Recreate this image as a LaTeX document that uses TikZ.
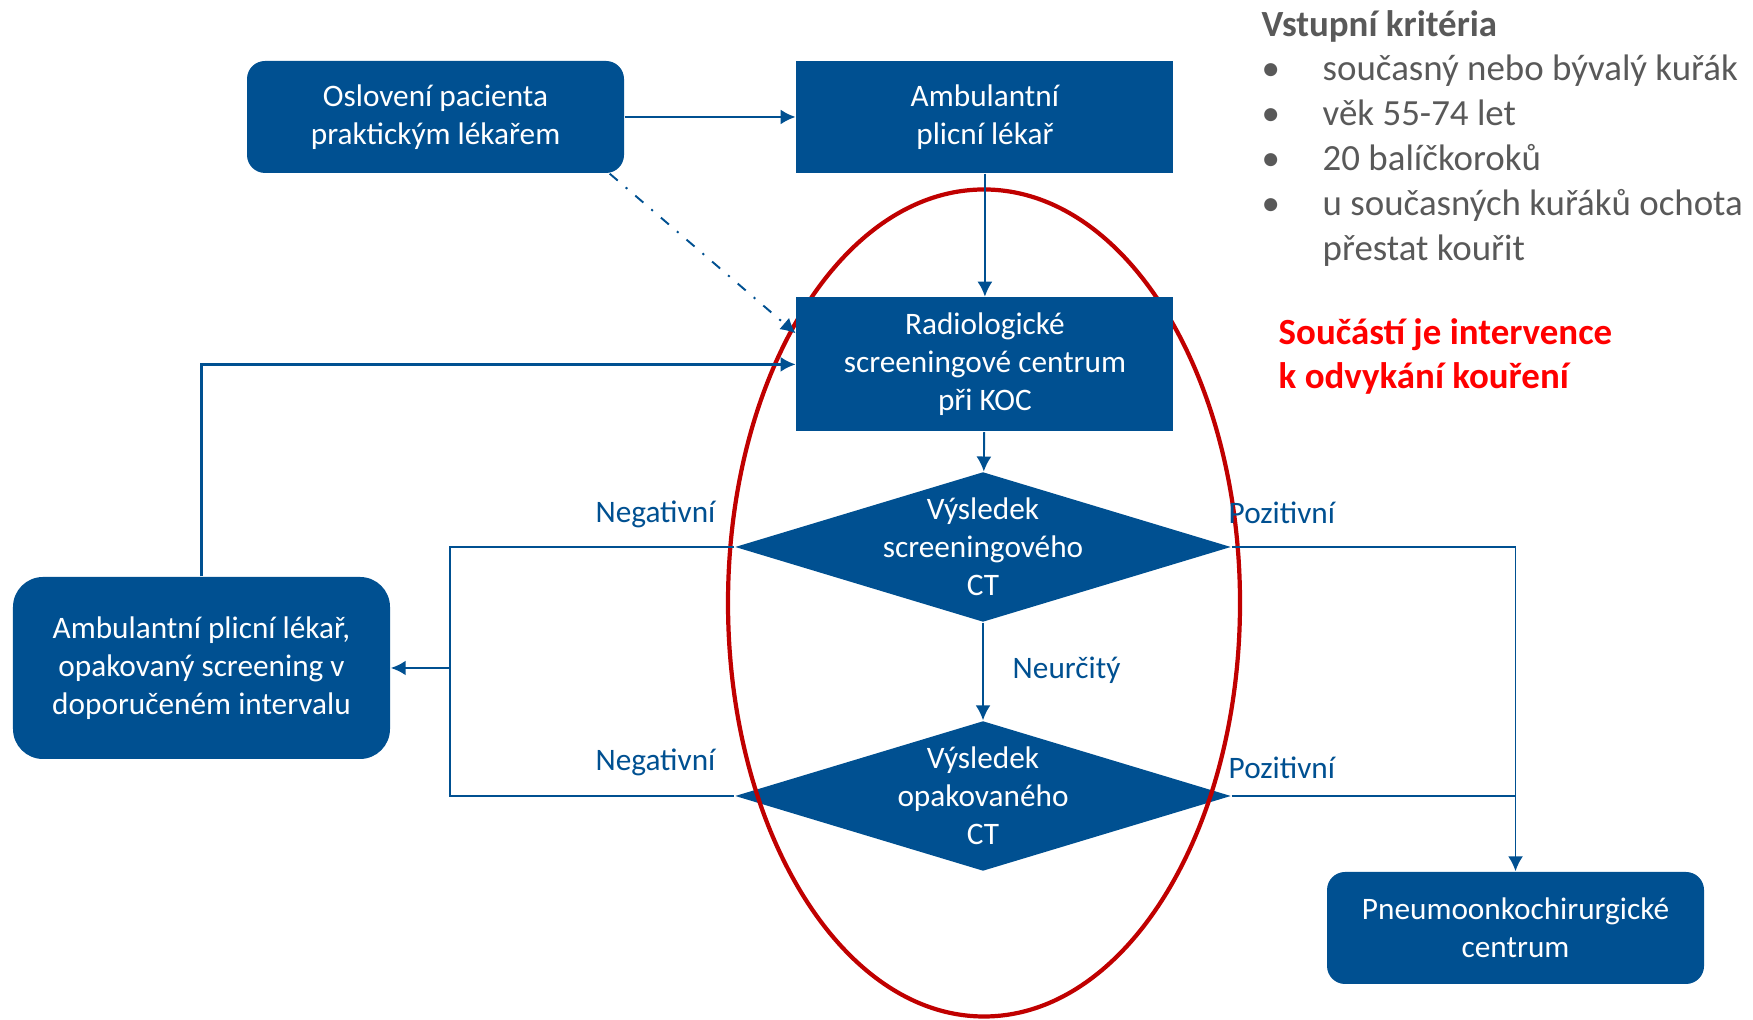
\documentclass[tikz,border=0pt]{standalone}
\usepackage{fontspec}
\setmainfont{Carlito}
\usetikzlibrary{positioning,shapes.geometric,arrows.meta}
\definecolor{koc}{RGB}{0,80,145}
\definecolor{oval}{RGB}{192,0,0}
\definecolor{sed}{RGB}{89,89,89}

\begin{document}
\begin{tikzpicture}[
    box/.style={rectangle, draw=none, fill=koc, text=white, align=center,
        minimum width=3.77cm, minimum height=1.12cm, inner sep=0pt,
        font=\fontsize{8.9}{10.8}\selectfont},
    rbox/.style={box, rounded corners=1.8mm},
    decision/.style={diamond, draw=none, fill=koc, inner sep=0pt,
        minimum width=4.96cm, minimum height=1.5cm},
    dtext/.style={text=white, align=center, inner sep=0pt, font=\fontsize{8.9}{10.8}\selectfont},
    wire/.style={draw=koc, line width=0.55pt},
    link/.style={wire, -{Latex[length=1.5mm,width=1.5mm]}},
    lbl/.style={text=koc, inner sep=0pt, font=\fontsize{8.9}{10.8}\selectfont}
]
\useasboundingbox (0,0) rectangle (17.53,10.20);

% diamonds sit under the red oval
\node [decision] (CT1) at (9.83,4.73) {};
\node [decision] (CT2) at (9.83,2.24) {};
\node [ellipse, draw=oval, line width=1.2pt, inner sep=0pt,
    minimum width=5.12cm, minimum height=8.27cm] (Oval) at (9.84,4.17) {};

\node [rbox] (Praktik) at (4.355,9.03) {Oslovení pacienta\\praktickým lékařem};
\node [box, right=1.71cm of Praktik] (Pneumolog) {Ambulantní\\plicní lékař};
\node [box, minimum height=1.34cm, below=1.23cm of Pneumolog] (Radio) {Radiologické\\screeningové centrum\\při KOC};
\node [rbox, minimum height=1.82cm, rounded corners=3mm] (Kontrola) at (2.015,3.52)
    {Ambulantní plicní lékař,\\opakovaný screening v\\doporučeném intervalu};
\node [rbox] (Chirurgie) at (15.155,0.92) {Pneumoonkochirurgické\\centrum};

\node [dtext] (CT1txt) at (CT1) {Výsledek\\screeningového\\CT};
\node [dtext] (CT2txt) at (CT2) {Výsledek\\opakovaného\\CT};

\draw [link, line width=0.8pt] (Praktik.east) -- (Pneumolog.west);
\draw [link] (Pneumolog) -- (Radio);
\draw [link, dash pattern=on 3pt off 3pt on 0.6pt off 3pt]
    ([xshift=-1.5mm]Praktik.south east) -- ([yshift=3.1mm]Radio.west);
\draw [link, line width=0.8pt] (Kontrola.north) |- (Radio.west);
\draw [link] (Radio) -- (CT1);
\draw [link] (CT1) -- (CT2);

\coordinate (Zpet) at (4.50,3.52);
\draw [wire] (CT1.west) -| (Zpet) |- (CT2.west);
\draw [link, line width=0.8pt] (Zpet) -- (Kontrola.east);
\draw [link] (CT1.east) -| (Chirurgie.north);
\draw [wire] (CT2.east) -- (CT2.east -| Chirurgie.north);

\node [lbl, anchor=east] (Neg1) at (7.16,5.06) {Negativní};
\node [lbl, anchor=east] (Neg2) at (7.16,2.58) {Negativní};
\node [lbl, anchor=west] (Poz1) at (12.28,5.07) {Pozitivní};
\node [lbl, anchor=west] (Poz2) at (12.28,2.52) {Pozitivní};
\node [lbl, anchor=west] (Neur) at (10.12,3.50) {Neurčitý};

\node [anchor=north west, inner sep=0pt, text=sed, font=\fontsize{10.5}{12.75}\selectfont]
    (Kriteria) at (12.61,10.16) {%
    \begin{tabular}{@{}p{6.1mm}@{}l@{}}
    \multicolumn{2}{@{}l@{}}{\bfseries Vstupní kritéria}\\
    \textbullet & současný nebo bývalý kuřák\\
    \textbullet & věk 55-74 let\\
    \textbullet & 20 balíčkoroků\\
    \textbullet & u současných kuřáků ochota\\
     & přestat kouřit
    \end{tabular}};
\node [anchor=north west, inner sep=0pt, text=red, font=\bfseries\fontsize{10.5}{12.75}\selectfont]
    (Odvykani) at (12.78,7.08) {%
    \begin{tabular}{@{}l@{}}
    Součástí je intervence\\
    k odvykání kouření
    \end{tabular}};
\end{tikzpicture}
\end{document}
